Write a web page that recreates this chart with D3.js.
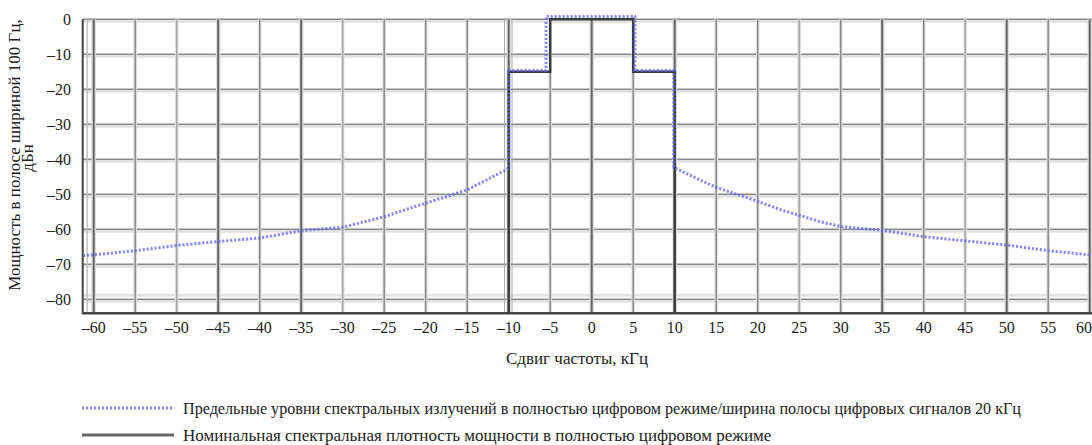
<!DOCTYPE html>
<html><head><meta charset="utf-8">
<script src="https://cdn.jsdelivr.net/npm/d3@7"></script>
<style>
html,body{margin:0;padding:0;background:#fff;}
svg{display:block;}
</style></head>
<body>
<svg id="c" width="1092" height="445"></svg>
<script>
// ---- data ----
const xTicks = [-60,-55,-50,-45,-40,-35,-30,-25,-20,-15,-10,-5,0,5,10,15,20,25,30,35,40,45,50,55,60];
const yTicks = [0,-10,-20,-30,-40,-50,-60,-70,-80];
const limitFreq = [-61.3,-60,-55,-50,-45,-40,-35,-30,-25,-20,-17.5,-15,-12.5,-10,-10,-5.5,-5.5,5.2,5.2,9.9,9.9,12.5,15,17.5,20,22.5,25,27.5,30,35,40,45,50,55,60];
const limitLevel = [-67.5,-67.3,-66.1,-64.6,-63.5,-62.5,-60.4,-59.4,-56.4,-52.5,-50.7,-48.7,-45.7,-42.6,-14.6,-14.6,0.8,0.8,-14.6,-14.6,-42.3,-45.3,-48,-50,-52,-54.2,-56,-57.8,-59.2,-60.3,-62.1,-63.3,-64.5,-66.1,-67.3];
const psdFreq = [-10,-10,-5,-5,5,5,10,10];
const psdLevel = [-84,-15,-15,0,0,-15,-15,-84];
const xTitle = "Сдвиг частоты, кГц";
const yTitle = ["Мощность в полосе шириной 100 Гц,", "дБн"];
const legendLabels = [
  "Предельные уровни спектральных излучений в полностью цифровом режиме/ширина полосы цифровых сигналов 20 кГц",
  "Номинальная спектральная плотность мощности в полностью цифровом режиме"
];

(function(){
const svg = d3.select("#c");
const x = d3.scaleLinear().domain([-60,60]).range([93.7,1089.7]);
const y = d3.scaleLinear().domain([0,-80]).range([19.3,299.3]);
const pL = 82.7, pR = 1092, pT = 19.3, pB = 313.3;
const darkX = new Set([-60,-45,-35,-10,0,10,35,50,60]);
const lightX = new Set([-50,-30,25,45]);
const FF = "'Liberation Serif', 'Times New Roman', Tinos, serif";
const txt = (sel, fs) => sel.style("font-family", FF).attr("font-size", fs).attr("fill", "#222");

const g = svg.append("g");
yTicks.forEach(v=>{
  g.append("line").attr("x1",pL).attr("x2",pR).attr("y1",y(v)+2).attr("y2",y(v)+2)
   .attr("stroke","#e2e2e2").attr("stroke-width",3);
  g.append("line").attr("x1",pL).attr("x2",pR).attr("y1",y(v)).attr("y2",y(v))
   .attr("stroke","#8a8a8a").attr("stroke-width",1.4);
});
g.append("line").attr("x1",pL).attr("x2",pR).attr("y1",y(-80)-4).attr("y2",y(-80)-4)
 .attr("stroke","#e4e4e4").attr("stroke-width",3);
xTicks.forEach(v=>{
  const dk = darkX.has(v), lt = lightX.has(v);
  g.append("line").attr("x1",x(v)).attr("x2",x(v)).attr("y1",pT).attr("y2",pB)
   .attr("stroke","#dcdcdc").attr("stroke-width",dk?4.5:3.5);
  g.append("line").attr("x1",x(v)).attr("x2",x(v)).attr("y1",pT).attr("y2",pB)
   .attr("stroke",dk?"#666":(lt?"#a5a5a5":"#888")).attr("stroke-width",dk?2:1.4);
});
[ -10.5, -9.6 ].forEach(v=>{
  g.append("line").attr("x1",x(v)).attr("x2",x(v)).attr("y1",pT).attr("y2",pB)
   .attr("stroke","#aaa").attr("stroke-width",1);
});
g.append("line").attr("x1",pL+4.5).attr("x2",pL+4.5).attr("y1",pT).attr("y2",pB)
 .attr("stroke","#bbb").attr("stroke-width",1.3);
g.append("line").attr("x1",pL).attr("x2",pL).attr("y1",pT).attr("y2",pB+1)
 .attr("stroke","#444").attr("stroke-width",2);
g.append("line").attr("x1",pL).attr("x2",pR).attr("y1",pB).attr("y2",pB)
 .attr("stroke","#444").attr("stroke-width",2.4);

const fmt = v => v<0 ? "\u2013"+Math.abs(v) : String(v);
yTicks.forEach(v=>{
  txt(svg.append("text"),16).attr("x",71).attr("y",y(v)).attr("dy","0.35em")
    .attr("text-anchor","end").text(fmt(v));
});
xTicks.forEach((v,i)=>{
  const last = i===xTicks.length-1;
  txt(svg.append("text"),16).attr("x",last?1092:x(v)).attr("y",333)
    .attr("text-anchor",last?"end":"middle").text(fmt(v));
});

const line = d3.line().x(d=>x(d[0])).y(d=>y(d[1]));
const psd = psdFreq.map((f,i)=>[f,psdLevel[i]]);
svg.append("path").attr("d",line(psd)).attr("fill","none")
  .attr("stroke","#3a3a3a").attr("stroke-width",2.4);
const lim = limitFreq.map((f,i)=>[f,limitLevel[i]]);
svg.append("path").attr("d",line(lim)).attr("fill","none")
  .attr("stroke","#6262f2").attr("stroke-opacity",0.75).attr("stroke-width",3)
  .attr("stroke-dasharray","2.2 1.8");

txt(svg.append("text"),17).attr("x",577).attr("y",364).attr("text-anchor","middle").text(xTitle);
txt(svg.append("text"),17).attr("transform","translate(20,155) rotate(-90)")
  .attr("text-anchor","middle").text(yTitle[0]);
txt(svg.append("text"),17).attr("transform","translate(33,158) rotate(-90)")
  .attr("text-anchor","middle").text(yTitle[1]);

const ly = [408, 435];
svg.append("line").attr("x1",82).attr("x2",174).attr("y1",ly[0]).attr("y2",ly[0])
  .attr("stroke","#6262f2").attr("stroke-opacity",0.75).attr("stroke-width",3)
  .attr("stroke-dasharray","2.2 1.8");
svg.append("line").attr("x1",82).attr("x2",174).attr("y1",ly[1]).attr("y2",ly[1])
  .attr("stroke","#666").attr("stroke-width",3.2);
legendLabels.forEach((t,i)=>{
  const el = txt(svg.append("text"),17).attr("x",183).attr("y",ly[i]).attr("dy","0.35em").text(t);
  if (i===0) el.attr("textLength",838).attr("lengthAdjust","spacingAndGlyphs");
});
})();
</script>
</body></html>
